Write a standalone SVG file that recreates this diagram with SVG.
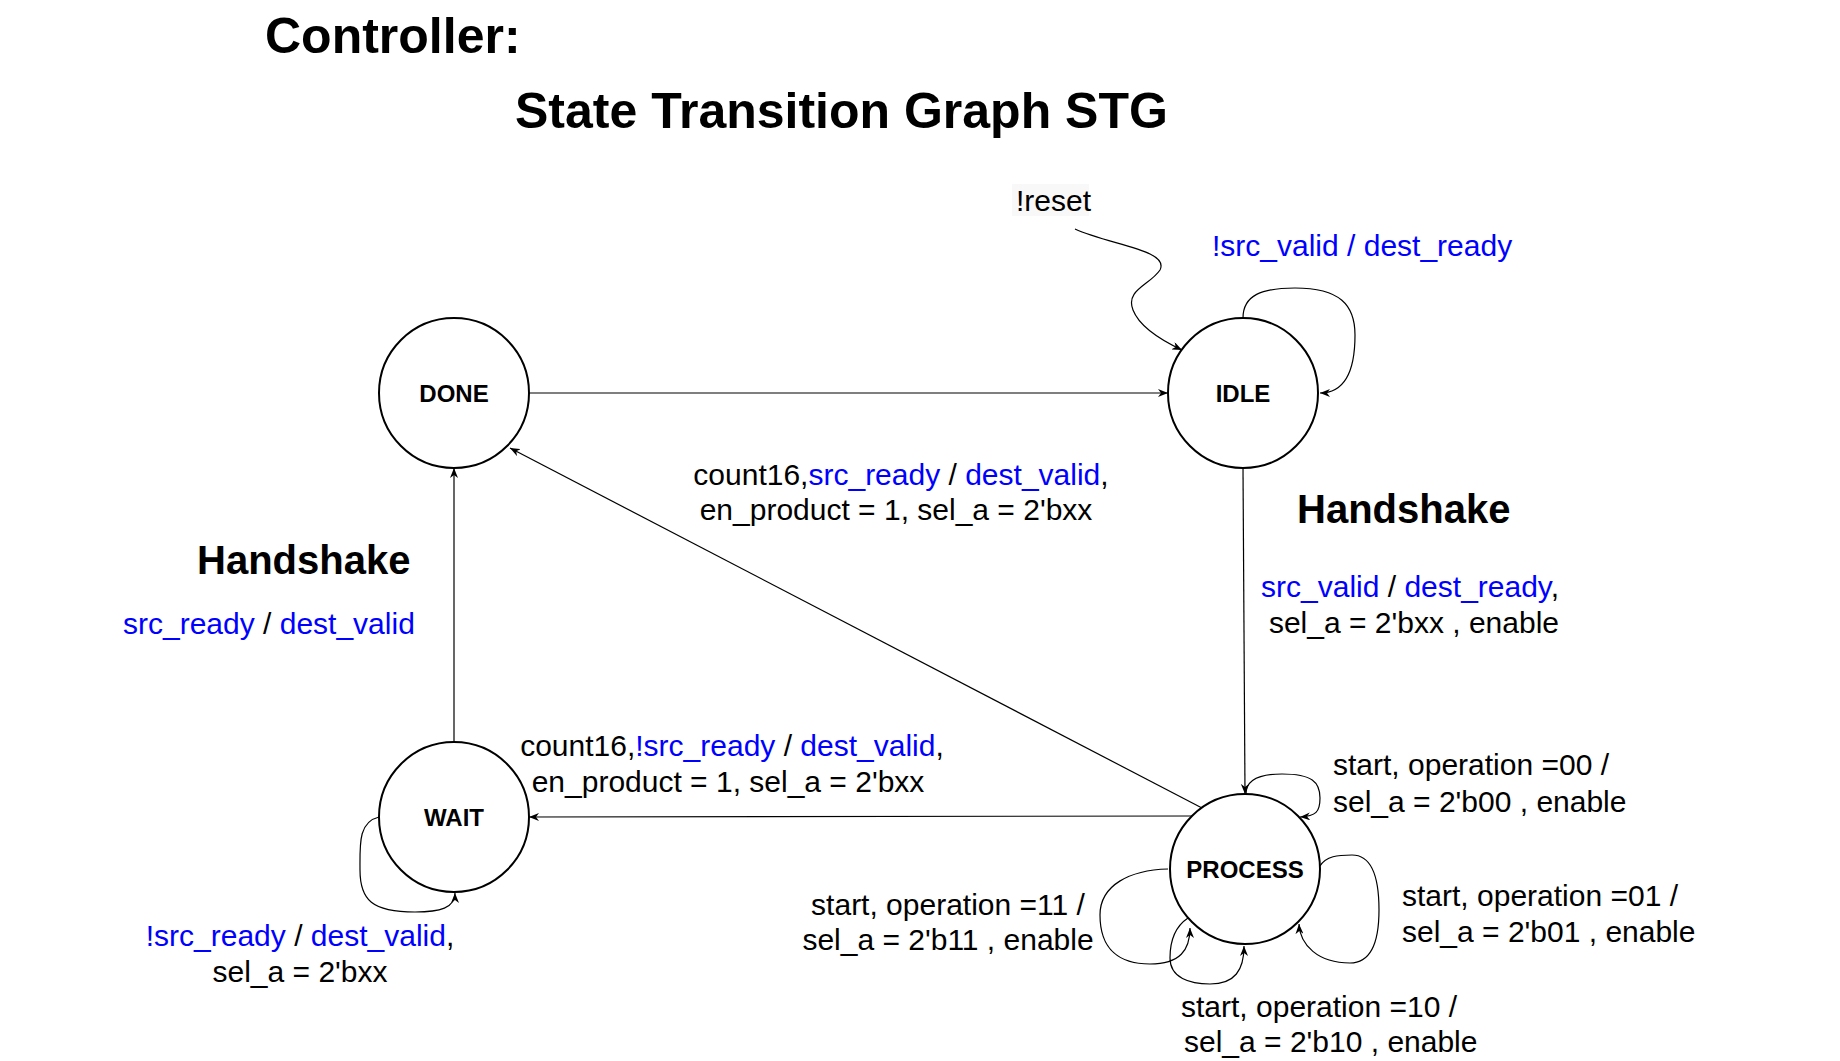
<svg xmlns="http://www.w3.org/2000/svg" width="1840" height="1061" viewBox="0 0 1840 1061">
<style>
text{font-family:"Liberation Sans",Arial,sans-serif;fill:#000}
.t{font-size:50px;font-weight:bold}
.h{font-size:40px;font-weight:bold}
.n{font-size:24px;font-weight:bold;text-anchor:middle}
.l{font-size:30px}
.m{text-anchor:middle}
.e{text-anchor:end}
.b{fill:#0000FF}
.st{fill:#fff;stroke:#000;stroke-width:2}
.c{fill:none;stroke:#000;stroke-width:1.2;marker-end:url(#arr)}
</style>
<defs>
<marker id="arr" viewBox="0 0 10 8" refX="10" refY="4" markerWidth="10" markerHeight="8" markerUnits="userSpaceOnUse" orient="auto">
<path d="M0,0 L10,4 L0,8 L3,4 z" fill="#000"/>
</marker>
</defs>
<rect width="1840" height="1061" fill="#fff"/>
<g id="titles">
<text class="t" x="265" y="53">Controller:</text>
<text class="t" x="515" y="128">State Transition Graph STG</text>
<text class="h" x="1297" y="523">Handshake</text>
<text class="h" x="197" y="574">Handshake</text>
</g>
<g id="connectors">
<path class="c" d="M1075,229 C1110,245 1170,250 1160,270 C1150,285 1125,290 1133,310 C1140,328 1165,342 1182,350"/>
<path class="c" d="M1243,318 C1243,295 1262,288 1295,288 C1340,288 1355,305 1355,335 C1355,370 1345,393 1320,393"/>
<path class="c" d="M529,393 L1168,393"/>
<path class="c" d="M1243,468 L1245,794"/>
<path class="c" d="M1202,808 L510,448"/>
<path class="c" d="M1192,816 L529,817"/>
<path class="c" d="M454,742 L454,468"/>
<path class="c" d="M379,817 C358,822 360,845 360,870 C360,900 372,912 415,912 C440,912 455,908 455,893"/>
<path class="c" d="M1246,794 C1246,780 1258,774 1282,774 C1312,774 1320,782 1320,798 C1320,812 1316,816 1300,817"/>
<path class="c" d="M1320,866 C1326,856 1338,855 1352,855 C1372,855 1379,878 1379,910 C1379,948 1368,963 1350,963 C1318,963 1300,945 1299,924"/>
<path class="c" d="M1168,869 C1130,870 1100,885 1100,915 C1100,950 1120,964 1150,964 C1180,964 1190,950 1190,928"/>
<path class="c" d="M1188,918 C1173,928 1170,945 1170,958 C1170,978 1190,984 1210,984 C1235,984 1244,970 1244,946"/>
</g>
<g id="DONE"><circle class="st" cx="454" cy="393" r="75"/><text class="n" x="454" y="402">DONE</text></g>
<g id="IDLE"><circle class="st" cx="1243" cy="393" r="75"/><text class="n" x="1243" y="402">IDLE</text></g>
<g id="WAIT"><circle class="st" cx="454" cy="817" r="75"/><text class="n" x="454" y="826">WAIT</text></g>
<g id="PROCESS"><circle class="st" cx="1245" cy="869" r="75"/><text class="n" x="1245" y="878">PROCESS</text></g>
<g id="labels">
<rect x="1012" y="184" width="77" height="32" fill="#f8f8f8"/>
<text class="l" x="1016" y="211">!reset</text>
<text class="l b" x="1212" y="256">!src_valid / dest_ready</text>
<text class="l m" x="901" y="485">count16,<tspan class="b">src_ready</tspan> / <tspan class="b">dest_valid</tspan>,</text>
<text class="l m" x="896" y="520">en_product = 1, sel_a = 2'bxx</text>
<text class="l e" x="1559" y="597"><tspan class="b">src_valid</tspan> / <tspan class="b">dest_ready</tspan>,</text>
<text class="l e" x="1559" y="633">sel_a = 2'bxx , enable</text>
<text class="l" x="123" y="634"><tspan class="b">src_ready</tspan> / <tspan class="b">dest_valid</tspan></text>
<text class="l m" x="732" y="756">count16,<tspan class="b">!src_ready</tspan> / <tspan class="b">dest_valid</tspan>,</text>
<text class="l m" x="728" y="792">en_product = 1, sel_a = 2'bxx</text>
<text class="l" x="1333" y="775">start, operation =00 /</text>
<text class="l" x="1333" y="812">sel_a = 2'b00 , enable</text>
<text class="l m" x="948" y="915">start, operation =11 /</text>
<text class="l m" x="948" y="950">sel_a = 2'b11 , enable</text>
<text class="l" x="1402" y="906">start, operation =01 /</text>
<text class="l" x="1402" y="942">sel_a = 2'b01 , enable</text>
<text class="l" x="1181" y="1017">start, operation =10 /</text>
<text class="l" x="1184" y="1052">sel_a = 2'b10 , enable</text>
<text class="l m" x="300" y="946"><tspan class="b">!src_ready</tspan> / <tspan class="b">dest_valid</tspan>,</text>
<text class="l m" x="300" y="982">sel_a = 2'bxx</text>
</g>
</svg>
